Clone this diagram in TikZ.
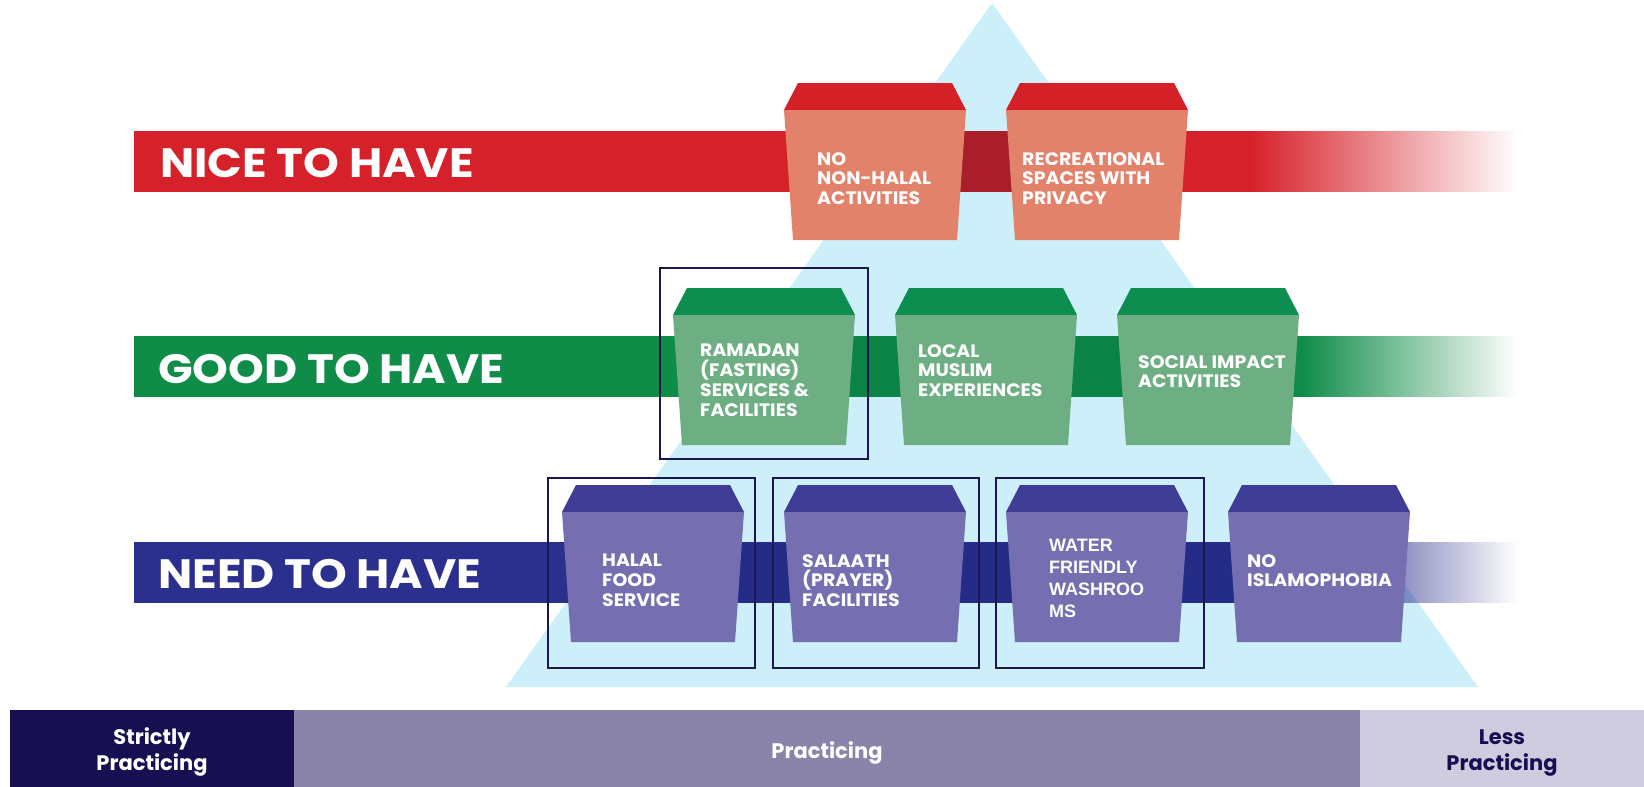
\documentclass[tikz,border=0pt]{standalone}
\usepackage{fontspec}
\setmainfont{Poppins}
\newfontfamily\widef{Poppins}[FakeStretch=1.11]
\newfontfamily\boxf{Poppins}[FakeStretch=1.05]
\newfontfamily\arialf{Liberation Sans}
\usetikzlibrary{calc,fadings}
\tikzfading[name=fadeout, left color=transparent!0, right color=transparent!100]
\definecolor{tri}{HTML}{CDEFF9}
\definecolor{redband}{HTML}{D7212A}
\definecolor{redov}{HTML}{A91E2A}
\definecolor{redtop}{HTML}{D42027}
\definecolor{redfront}{HTML}{E3826A}
\definecolor{grnband}{HTML}{0E8C48}
\definecolor{grnov}{HTML}{0B8346}
\definecolor{grntop}{HTML}{0B8E4F}
\definecolor{grnfront}{HTML}{6DAE83}
\definecolor{bluband}{HTML}{2B2F8E}
\definecolor{bluov}{HTML}{242C88}
\definecolor{blutop}{HTML}{3F3D96}
\definecolor{blufront}{HTML}{756FB1}
\definecolor{framec}{HTML}{1B1550}
\definecolor{bdark}{HTML}{160F52}
\definecolor{bmid}{HTML}{8A84AB}
\definecolor{blight}{HTML}{CFCCE0}
\newcommand\mycube[4]{%
  \fill[#3] ({#1+14},#2) -- ({#1+168},#2) -- ({#1+182},{#2+27}) -- (#1,{#2+27}) -- cycle;
  \fill[#4] (#1,{#2+27}) -- ({#1+182},{#2+27}) -- ({#1+173},{#2+157}) -- ({#1+9},{#2+157}) -- cycle;}
\tikzset{
  lbl/.style={anchor=base west, inner sep=0, text=white, font=\widef\fontsize{41}{41}\selectfont\bfseries},
  boxtxt/.style={anchor=north west, inner sep=0, align=left, text=white, font=\boxf\fontsize{18}{19.8}\selectfont\bfseries},
  boxtxtb/.style={anchor=north west, inner sep=0, align=left, text=white, font=\arialf\fontsize{18}{22}\selectfont\bfseries},
  frame/.style={draw=framec, line width=1.5pt},
  bartxt/.style={anchor=north, inner sep=0, align=center, font=\fontsize{21}{26}\selectfont\bfseries}
}
\begin{document}
\begin{tikzpicture}[x=1pt,y=-1pt]
\useasboundingbox (0,0) rectangle (1644,787);
\fill[white] (0,0) rectangle (1644,787);
% pyramid
\fill[tri] (992,3) -- (506,687) -- (1478,687) -- cycle;
% bands
\fill[redband] (134,131) rectangle (1250,192);
\fill[redband, path fading=fadeout] (1250,131) rectangle (1517,192);
\fill[grnband] (134,336) rectangle (1300,397);
\fill[grnband, path fading=fadeout] (1300,336) rectangle (1517,397);
\fill[bluband] (134,542) rectangle (1300,603);
\fill[bluband, path fading=fadeout] (1300,542) rectangle (1517,603);
\begin{scope}
  \clip (992,3) -- (506,687) -- (1478,687) -- cycle;
  \fill[redov] (134,131) rectangle (1250,192);
  \fill[grnov] (134,336) rectangle (1300,397);
  \fill[bluov] (134,542) rectangle (1300,603);
\end{scope}
% level labels
\node[lbl] (nice) at (160,177) {NICE TO HAVE};
\node[lbl] (good) at (158,383) {GOOD TO HAVE};
\node[lbl] (need) at (158,588) {NEED TO HAVE};
% nice to have
\mycube{784}{83}{redtop}{redfront}
\mycube{1006}{83}{redtop}{redfront}
\node[boxtxt] (r1) at (817,152) {NO\\NON-HALAL\\ACTIVITIES};
\node[boxtxt] (r2) at (1022,152) {RECREATIONAL\\SPACES WITH\\PRIVACY};
% good to have
\mycube{673}{288}{grntop}{grnfront}
\mycube{895}{288}{grntop}{grnfront}
\mycube{1117}{288}{grntop}{grnfront}
\node[boxtxt] (g1) at (700,344) {RAMADAN\\(FASTING)\\SERVICES \&\\FACILITIES};
\node[boxtxt] (g2) at (918,344) {LOCAL\\MUSLIM\\EXPERIENCES};
\node[boxtxt] (g3) at (1138,355) {SOCIAL IMPACT\\ACTIVITIES};
% need to have
\mycube{562}{485}{blutop}{blufront}
\mycube{784}{485}{blutop}{blufront}
\mycube{1006}{485}{blutop}{blufront}
\mycube{1228}{485}{blutop}{blufront}
\node[boxtxt] (b1) at (602,554) {HALAL\\FOOD\\SERVICE};
\node[boxtxt] (b2) at (802,554) {SALAATH\\(PRAYER)\\FACILITIES};
\node[boxtxtb] (b3) at (1049,539) {WATER\\FRIENDLY\\WASHROO\\MS};
\node[boxtxt] (b4) at (1247,554) {NO\\ISLAMOPHOBIA};
% highlight frames
\draw[frame] (660,268) rectangle (868,459);
\draw[frame] (548,478) rectangle (755,668);
\draw[frame] (773,478) rectangle (979,668);
\draw[frame] (996,478) rectangle (1204,668);
% bottom scale
\fill[bdark] (10,710) rectangle (294,787);
\fill[bmid] (294,710) rectangle (1360,787);
\fill[blight] (1360,710) rectangle (1644,787);
\node[bartxt, text=white] (s1) at (152,727) {Strictly\\Practicing};
\node[bartxt, text=white] (s2) at (827,741) {Practicing};
\node[bartxt, text=bdark] (s3) at (1502,730) {Less\\Practicing};
\end{tikzpicture}
\end{document}
